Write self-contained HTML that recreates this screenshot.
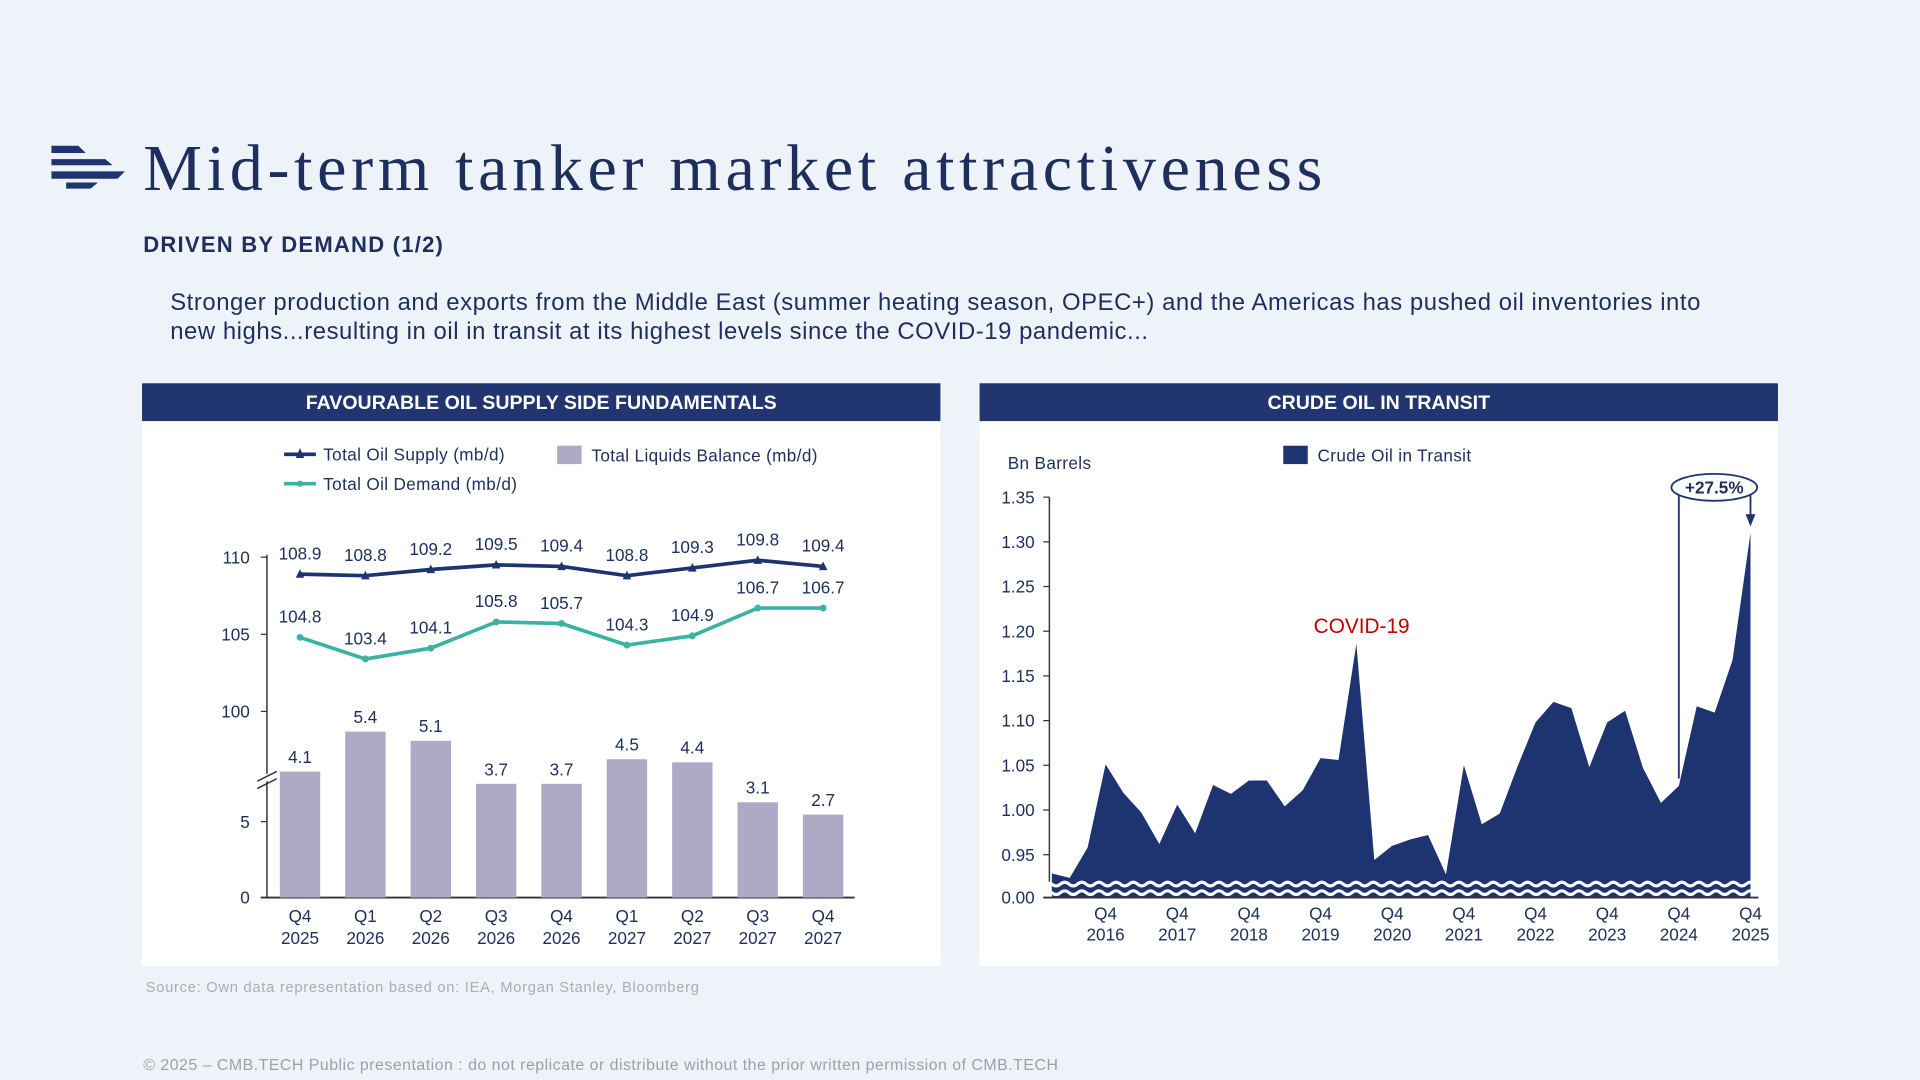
<!DOCTYPE html>
<html><head><meta charset="utf-8">
<style>
html,body{margin:0;padding:0;background:#eef2f9;width:1920px;height:1080px;overflow:hidden}
#wrap{position:absolute;left:0;top:0;width:1568px;height:882px;transform:scale(1.22449);transform-origin:0 0;font-family:"Liberation Sans",sans-serif;color:#1e2f5e}
.abs{position:absolute;white-space:nowrap}
</style></head><body>
<div id="wrap">
  <svg class="abs" style="left:40px;top:116px" width="64" height="40">
    <g fill="#1e3470"><polygon points="2,3 24,3 30,9 2,9"/><polygon points="2,14 46,14 52,19 2,19"/><polygon points="2,24 62,24 56,30 2,30"/><polygon points="14,33 40,33 34,38 14,38"/></g>
  </svg>
  <div class="abs" style="left:117px;top:106px;font-family:'Liberation Serif',serif;font-size:54px;color:#1e2f5e;letter-spacing:3.8px">Mid-term tanker market attractiveness</div>
  <div class="abs" style="left:117px;top:190px;font-size:18px;font-weight:bold;color:#1e2f5e;letter-spacing:1px">DRIVEN BY DEMAND (1/2)</div>
  <div class="abs" style="left:139px;top:235px;font-size:19.5px;line-height:24px;color:#1e2f5e;letter-spacing:0.45px">Stronger production and exports from the Middle East (summer heating season, OPEC+) and the Americas has pushed oil inventories into<br>new highs...resulting in oil in transit at its highest levels since the COVID-19 pandemic...</div>

  <svg class="abs" style="left:0;top:0" width="1568" height="882" id="charts">
    <rect x="116" y="313" width="652" height="31" fill="#213670"/>
    <text x="442" y="334" text-anchor="middle" fill="#fff" font-size="16" font-weight="bold">FAVOURABLE OIL SUPPLY SIDE FUNDAMENTALS</text>
    <rect x="116" y="344" width="652" height="445" fill="#fff"/>
    <rect x="800" y="313" width="652" height="31" fill="#213670"/>
    <text x="1126" y="334" text-anchor="middle" fill="#fff" font-size="16" font-weight="bold">CRUDE OIL IN TRANSIT</text>
    <rect x="800" y="344" width="652" height="445" fill="#fff"/>
    <g id="left"></g><g id="right"></g>
    <text x="119" y="810" font-size="12" fill="#a9adb8" letter-spacing="0.6">Source:  Own data representation based on: IEA, Morgan Stanley, Bloomberg</text>
    <text x="117" y="874" font-size="13" fill="#9aa0ad" letter-spacing="0.4">© 2025 – CMB.TECH Public presentation : do not replicate or distribute without the prior written permission of CMB.TECH</text>
  </svg>
</div>
<script>
const qLabels=["Q4","Q1","Q2","Q3","Q4","Q1","Q2","Q3","Q4"];
const yLabels=["2025","2026","2026","2026","2026","2027","2027","2027","2027"];
const supply=[108.9,108.8,109.2,109.5,109.4,108.8,109.3,109.8,109.4];
const demand=[104.8,103.4,104.1,105.8,105.7,104.3,104.9,106.7,106.7];
const balance=[4.1,5.4,5.1,3.7,3.7,4.5,4.4,3.1,2.7];
const upperTicks=[100,105,110];
const lowerTicks=[0,5];

const transitValues=[0.929,0.924,0.958,1.051,1.019,0.997,0.962,1.006,0.974,1.028,1.018,1.033,1.033,1.004,1.022,1.058,1.056,1.186,0.944,0.960,0.967,0.972,0.928,1.050,0.984,0.996,1.049,1.098,1.121,1.114,1.048,1.098,1.111,1.047,1.008,1.027,1.116,1.109,1.168,1.310];
const transitTicks=[0.95,1.00,1.05,1.10,1.15,1.20,1.25,1.30,1.35];
const transitYears=["2016","2017","2018","2019","2020","2021","2022","2023","2024","2025"];

const NS="http://www.w3.org/2000/svg";
function mk(parent,tag,attrs,text){const e=document.createElementNS(NS,tag);for(const k in attrs)e.setAttribute(k,attrs[k]);if(text!==undefined)e.textContent=text;parent.appendChild(e);return e;}
const NAVY="#1e3470",TEAL="#3bb3a3",BAR="#adaac5",TXT="#1e2f5e";

// LEFT CHART
const L=document.getElementById('left');
const lx=i=>245+i*53.4;
const yUp=v=>455+(110-v)*12.6;
const yBar=v=>733-v*25.1;
const yLowTick=v=>733-v*12.4;
let e=mk(L,'line',{x1:232,y1:371,x2:258,y2:371,stroke:NAVY,'stroke-width':3});

mk(L,'polygon',{points:"245,366 248.5,374 241.5,374",fill:NAVY});
e=mk(L,'text',{x:264,y:376,'font-size':14,fill:TXT,'letter-spacing':0.3},'Total Oil Supply (mb/d)');

e=mk(L,'rect',{x:455,y:364,width:20,height:15,fill:BAR});

e=mk(L,'text',{x:483,y:377,'font-size':14,fill:TXT,'letter-spacing':0.3},'Total Liquids Balance (mb/d)');

mk(L,'line',{x1:232,y1:395,x2:258,y2:395,stroke:TEAL,'stroke-width':3});
mk(L,'circle',{cx:245,cy:395,r:2.5,fill:TEAL});
e=mk(L,'text',{x:264,y:400,'font-size':14,fill:TXT,'letter-spacing':0.3},'Total Oil Demand (mb/d)');

e=mk(L,'line',{x1:218,y1:453,x2:218,y2:733,stroke:'#333','stroke-width':1.2});

e=mk(L,'line',{x1:213,y1:733,x2:698,y2:733,stroke:'#333','stroke-width':1.5});

mk(L,'rect',{x:212,y:632,width:12,height:6,fill:'#fff'});
mk(L,'line',{x1:210,y1:638,x2:226,y2:630,stroke:'#333','stroke-width':1.2});
mk(L,'line',{x1:210,y1:644,x2:226,y2:636,stroke:'#333','stroke-width':1.2});
upperTicks.forEach(t=>{mk(L,'line',{x1:213,y1:yUp(t),x2:218,y2:yUp(t),stroke:'#333'});
 const tx=mk(L,'text',{x:204,y:yUp(t)+5,'text-anchor':'end','font-size':14,fill:TXT},String(t));
 });
lowerTicks.forEach(t=>{mk(L,'line',{x1:213,y1:yLowTick(t),x2:218,y2:yLowTick(t),stroke:'#333'});
 const tx=mk(L,'text',{x:204,y:yLowTick(t)+5,'text-anchor':'end','font-size':14,fill:TXT},String(t));
 });
balance.forEach((v,i)=>{
 const b=mk(L,'rect',{x:lx(i)-16.5,y:yBar(v),width:33,height:733-yBar(v),fill:BAR});
 
 const t=mk(L,'text',{x:lx(i),y:yBar(v)-7,'text-anchor':'middle','font-size':14,fill:TXT},v.toFixed(1));
 
 const q=mk(L,'text',{x:lx(i),y:753,'text-anchor':'middle','font-size':14,fill:TXT},qLabels[i]);
 
 const yr=mk(L,'text',{x:lx(i),y:771,'text-anchor':'middle','font-size':14,fill:TXT},yLabels[i]);
 
});
e=mk(L,'polyline',{points:supply.map((v,i)=>lx(i)+','+yUp(v)).join(' '),fill:'none',stroke:NAVY,'stroke-width':3});

e=mk(L,'polyline',{points:demand.map((v,i)=>lx(i)+','+yUp(v)).join(' '),fill:'none',stroke:TEAL,'stroke-width':3});

supply.forEach((v,i)=>{const x=lx(i),y=yUp(v);
 const p=mk(L,'polygon',{points:`${x},${y-4} ${x+3.5},${y+3} ${x-3.5},${y+3}`,fill:NAVY});
 
 const t=mk(L,'text',{x:x,y:y-12,'text-anchor':'middle','font-size':14,fill:TXT},v.toFixed(1));
 });
demand.forEach((v,i)=>{const x=lx(i),y=yUp(v);
 const p=mk(L,'circle',{cx:x,cy:y,r:2.8,fill:TEAL});
 
 const t=mk(L,'text',{x:x,y:y-12,'text-anchor':'middle','font-size':14,fill:TXT},v.toFixed(1));
 });

// RIGHT CHART
const R=document.getElementById('right');
const rx=i=>859+i*14.63;
const ry=v=>406+(1.35-v)*730;
e=mk(R,'text',{x:823,y:383,'font-size':14,fill:TXT,'letter-spacing':0.3},'Bn Barrels');

e=mk(R,'rect',{x:1048,y:364,width:20,height:15,fill:NAVY});

e=mk(R,'text',{x:1076,y:377,'font-size':14,fill:TXT,'letter-spacing':0.3},'Crude Oil in Transit');

let pts=transitValues.map((v,i)=>rx(i)+','+ry(v));
e=mk(R,'polygon',{points:rx(0)+',733 '+pts.join(' ')+' '+rx(transitValues.length-1)+',733',fill:NAVY});

function wave(y){let s='M852,'+(y+2);for(let x=852;x<1438;x+=14){s+=` Q${x+3.5},${y-3} ${x+7},${y} T${x+14},${y}`;}return s;}
mk(R,'path',{d:wave(722),fill:'none',stroke:'#fff','stroke-width':2.5});
mk(R,'path',{d:wave(729),fill:'none',stroke:'#fff','stroke-width':2.5});
e=mk(R,'line',{x1:857,y1:406,x2:857,y2:720,stroke:'#333','stroke-width':1.2});

e=mk(R,'line',{x1:852,y1:733,x2:1436,y2:733,stroke:'#333','stroke-width':1.5});

transitTicks.forEach(t=>{mk(R,'line',{x1:852,y1:ry(t),x2:857,y2:ry(t),stroke:'#333'});
 const tx=mk(R,'text',{x:845,y:ry(t)+5,'text-anchor':'end','font-size':14,fill:TXT},t.toFixed(2));
 });
e=mk(R,'text',{x:845,y:738,'text-anchor':'end','font-size':14,fill:TXT},'0.00');

transitYears.forEach((y,k)=>{const x=rx(3+4*k);
 const q=mk(R,'text',{x:x,y:751,'text-anchor':'middle','font-size':14,fill:TXT},'Q4');
 
 const t=mk(R,'text',{x:x,y:768,'text-anchor':'middle','font-size':14,fill:TXT},y);
 });
e=mk(R,'text',{x:1112,y:517,'text-anchor':'middle','font-size':17,fill:'#c00000'},'COVID-19');

const last=transitValues.length-1, ref=last-4;
mk(R,'line',{x1:rx(ref),y1:ry(transitValues[ref])-6,x2:rx(ref),y2:404,stroke:NAVY,'stroke-width':1.5});
mk(R,'line',{x1:rx(last),y1:404,x2:rx(last),y2:422,stroke:NAVY,'stroke-width':1.5});
mk(R,'polygon',{points:`${rx(last)-4},420 ${rx(last)+4},420 ${rx(last)},430`,fill:NAVY});
e=mk(R,'ellipse',{cx:1400,cy:398,rx:35,ry:11,fill:'#fff',stroke:NAVY,'stroke-width':1.5});

mk(R,'text',{x:1400,y:403,'text-anchor':'middle','font-size':14,'font-weight':'bold',fill:TXT},'+27.5%');
</script>
</body></html>
